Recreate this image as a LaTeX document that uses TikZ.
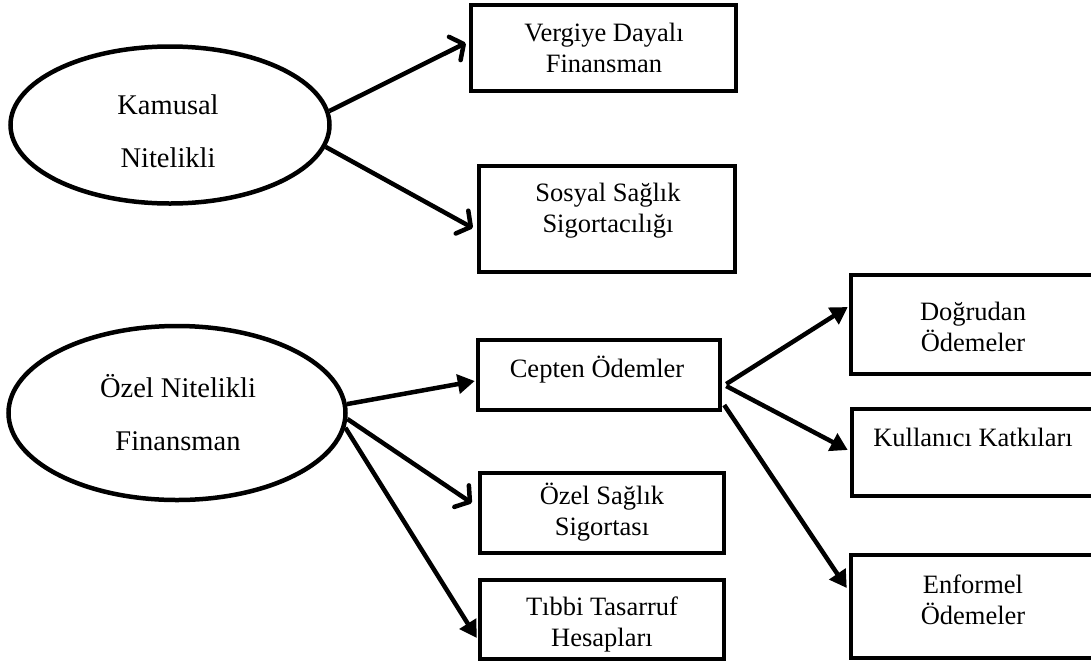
\documentclass[tikz,border=0pt]{standalone}
\usepackage{fontspec}
\setmainfont{Liberation Serif}
\usetikzlibrary{shapes.geometric,arrows.meta,calc}
\begin{document}
\begin{tikzpicture}[x=1pt,y=-1pt,
  oval/.style={ellipse,draw,line width=4.5pt,inner sep=0pt},
  box/.style={rectangle,draw,line width=4.5pt,inner sep=0pt},
  txt/.style={align=center,inner sep=0pt,font=\fontsize{26.5}{31}\selectfont},
  otxt/.style={align=center,inner sep=0pt,font=\fontsize{28.5}{53}\selectfont},
  conn/.style={line width=4.5pt},
  fillarrow/.style={conn,-{Triangle[length=17pt,width=19pt]}},
  openarrow/.style={conn,-{Straight Barb[length=10pt,width=26pt,line cap=round,line join=round]}}
]
\useasboundingbox (0,0) rectangle (1091,665);
\clip (0,0) rectangle (1091,665);
\fill[white] (0,0) rectangle (1091,665);

% ellipses
\node[oval,minimum width=319pt,minimum height=157pt] (kam) at (170,125) {};
\node[otxt] (kamt) at (168,131) {Kamusal\\Nitelikli};
\node[oval,minimum width=337pt,minimum height=174pt] (oz) at (177,413) {};
\node[otxt] (ozt) at (178,413) {Özel Nitelikli\\Finansman};

% boxes
\node[box,minimum width=265pt,minimum height=86pt] (vb) at (603.5,48) {};
\node[txt] (vbt) at (604,48) {Vergiye Dayalı\\Finansman};
\node[box,minimum width=256pt,minimum height=106pt] (ss) at (607,219) {};
\node[txt] (sst) at (608,211) {Sosyal Sağlık\\Sigortacılığı};
\node[box,minimum width=242pt,minimum height=70pt] (ce) at (599,375) {};
\node[txt] (cet) at (597,370) {Cepten Ödemler};
\node[box,minimum width=244pt,minimum height=80pt] (os) at (602,513) {};
\node[txt] (ost) at (602,512) {Özel Sağlık\\Sigortası};
\node[box,minimum width=244pt,minimum height=79pt] (tt) at (602,619.5) {};
\node[txt] (ttt) at (602,624) {Tıbbi Tasarruf\\Hesapları};
\node[box,minimum width=247pt,minimum height=99pt] (do) at (974.5,324.5) {};
\node[txt] (dot) at (973,327) {Doğrudan\\Ödemeler};
\node[box,minimum width=246pt,minimum height=87pt] (ku) at (975,452.5) {};
\node[txt] (kut) at (973,437) {Kullanıcı Katkıları};
\node[box,minimum width=247pt,minimum height=103pt] (en) at (974.5,606.5) {};
\node[txt] (ent) at (973,600) {Enformel\\Ödemeler};

% connectors
\draw[openarrow] (kam.5) -- ($(vb.west)+(-3,-5)$);
\draw[openarrow] (kam.-8) -- ($(ss.west)+(-4,9)$);
\draw[fillarrow] (oz.3) -- ($(ce.west)+(-1,6)$);
\draw[openarrow] (oz.-2) -- ($(os.west)+(-6,-10)$);
\draw[fillarrow] (oz.-5) -- ($(tt.west)+(-1,18.5)$);
\draw[fillarrow] ($(ce.east)+(4,9)$) -- ($(do.west)+(-1,-17.5)$);
\draw[fillarrow] ($(ce.east)+(4,11)$) -- ($(ku.west)+(-2,-2.5)$);
\draw[fillarrow] ($(ce.east)+(2,30)$) -- ($(en.west)+(-2,-18.5)$);
\end{tikzpicture}
\end{document}
